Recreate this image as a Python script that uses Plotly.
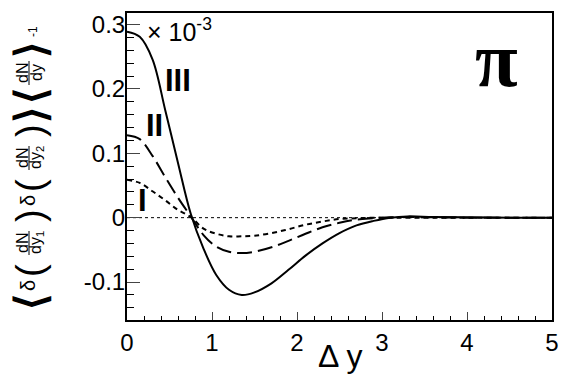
import plotly.graph_objects as go

# Δy grid and correlation values (in units of 10^-3)
dy = [0, 0.15, 0.3, 0.45, 0.6, 0.75, 0.9, 1.05, 1.2, 1.35, 1.5, 1.7, 1.9,
      2.1, 2.3, 2.5, 2.7, 2.9, 3.1, 3.3, 3.6, 4.0, 4.5, 5.0]
curve_III = [0.289, 0.281, 0.246, 0.167, 0.085, 0.006, -0.048, -0.089, -0.112,
             -0.120, -0.116, -0.102, -0.081, -0.059, -0.040, -0.024, -0.012,
             -0.005, 0.0, 0.002, 0.001, 0.0005, 0.0, 0.0]
curve_II = [0.128, 0.122, 0.096, 0.063, 0.031, 0.002, -0.027, -0.045, -0.053,
            -0.055, -0.053, -0.046, -0.036, -0.025, -0.015, -0.008, -0.003,
            -0.001, 0.0005, 0.001, 0.0005, 0.0, 0.0, 0.0]
curve_I = [0.059, 0.054, 0.041, 0.027, 0.012, 0.001, -0.017, -0.025, -0.029,
           -0.029, -0.028, -0.024, -0.018, -0.011, -0.006, -0.002, -0.001,
           0.0, 0.0, 0.0, 0.0, 0.0, 0.0, 0.0]
y_ticks = [-0.1, 0, 0.1, 0.2, 0.3]
y_tick_labels = ["-0.1", "0", "0.1", "0.2", "0.3"]

FONT = "Liberation Sans"
OFF = 8                          # page margin around the plot div
L, R, T, B = 127, 552, 13, 320   # plot frame in screen pixels
W, H = 581, 385


def px(x, y):
    # screen pixel position -> paper coordinates
    return (x - L) / (R - L), (B - y) / (B - T)


fig = go.Figure()
fig.add_trace(go.Scatter(x=dy, y=curve_III, mode="lines", line_shape="spline",
                         line=dict(color="black", width=2)))
fig.add_trace(go.Scatter(x=dy, y=curve_II, mode="lines", line_shape="spline",
                         line=dict(color="black", width=2, dash="15px,6px")))
fig.add_trace(go.Scatter(x=dy, y=curve_I, mode="lines", line_shape="spline",
                         line=dict(color="black", width=2, dash="5px,4px")))

# dotted zero line
fig.add_shape(type="line", xref="x", yref="y", x0=0, x1=5, y0=0, y1=0,
              line=dict(color="black", width=1, dash="dot"), layer="below")

ann = []
# roman numerals
for txt, x, y in [("III", 178, 80), ("II", 154, 125), ("I", 142, 200)]:
    ax, ay = px(x, y)
    ann.append(dict(text=f"<b>{txt}</b>", x=ax, y=ay, font=dict(size=31)))
# pi
ax, ay = px(496, 60)
ann.append(dict(text="<b>π</b>", x=ax, y=ay,
                font=dict(size=78, family="Liberation Serif")))
# exponent
ax, ay = px(145, 30)
ann.append(dict(text="× 10<sup>-3</sup>", x=ax, y=ay, xanchor="left",
                font=dict(size=25)))
# x title
ax, ay = px(340, 356)
ann.append(dict(text="Δ y", x=ax, y=ay, font=dict(size=32)))

# y title pieces, rotated: (text, x px, y px, size)
pieces = [
    ("<b>⟨</b>", 30, 302, 42),
    ("δ", 28, 286, 20),
    ("(", 30, 271, 38),
    (")", 30, 216, 38),
    ("δ", 28, 201, 20),
    ("(", 30, 186, 38),
    (")", 30, 131, 38),
    ("<b>⟩</b>", 30, 115, 42),
    ("<b>⟨</b>", 30, 96, 42),
    ("<b>⟩</b>", 30, 50, 42),
    ("-1", 33, 32, 12),
]
for txt, x, y, s in pieces:
    ax, ay = px(x, y)
    ann.append(dict(text=txt, x=ax, y=ay, textangle=-90, font=dict(size=s)))

# fractions: (denominator, y px)
for den, y in [("dy<sub>1</sub>", 243), ("dy<sub>2</sub>", 158), ("dy", 73)]:
    ax, ay = px(22, y)
    ann.append(dict(text="dN", x=ax, y=ay, textangle=-90, font=dict(size=16)))
    ax, ay = px(36, y)
    ann.append(dict(text=den, x=ax, y=ay, textangle=-90, font=dict(size=16)))
    x0, y0 = px(29, y - 12)
    x1, y1 = px(29, y + 12)
    fig.add_shape(type="line", xref="paper", yref="paper", x0=x0, x1=x1,
                  y0=y0, y1=y1, line=dict(color="black", width=1))

for a in ann:
    a.update(xref="paper", yref="paper", showarrow=False, yanchor="middle")
    a.setdefault("xanchor", "center")
    a["font"].setdefault("family", FONT)
    a["font"]["color"] = "black"

fig.update_layout(
    width=W, height=H,
    margin=dict(l=L - OFF, r=W - R + OFF, t=T - OFF, b=H - B + OFF,
                autoexpand=False),
    paper_bgcolor="white", plot_bgcolor="white",
    showlegend=False,
    font=dict(family=FONT, size=24, color="black"),
    annotations=ann,
)
fig.update_xaxes(range=[0, 5], dtick=1, tick0=0, ticks="inside", ticklen=8,
                 tickwidth=1, showgrid=False, zeroline=False, showline=True,
                 linecolor="black", linewidth=2, mirror=True, automargin=False,
                 minor=dict(dtick=0.2, ticks="inside", ticklen=4,
                            tickcolor="black", showgrid=False))
fig.update_yaxes(range=[-0.159, 0.318], tickvals=y_ticks,
                 ticktext=y_tick_labels, ticks="inside",
                 ticklen=13, tickwidth=1, showgrid=False, zeroline=False,
                 showline=True, linecolor="black", linewidth=2, mirror=True,
                 automargin=False, ticklabelstandoff=-5,
                 minor=dict(dtick=0.02, tick0=0, ticks="inside", ticklen=7,
                            tickcolor="black", showgrid=False))

fig.write_html("out.html")
